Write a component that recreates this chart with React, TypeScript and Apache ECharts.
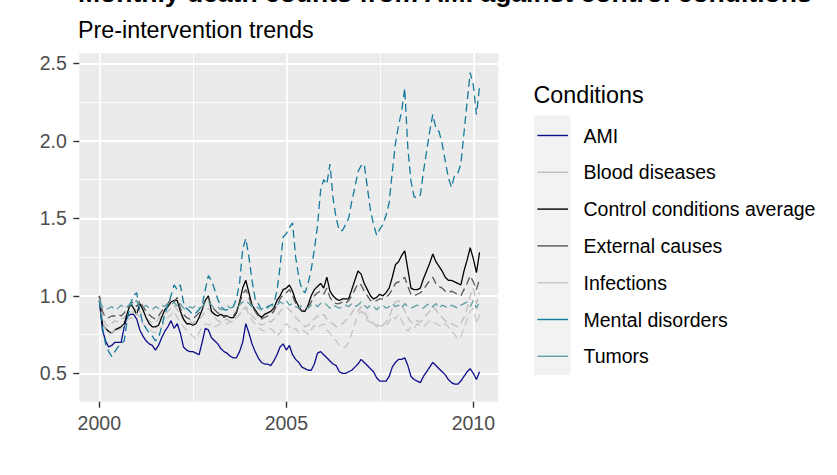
import React, { useEffect, useRef } from "react";
import * as echarts from "echarts";

const FONT = "'Liberation Sans', Arial, sans-serif";

const TITLE = "Monthly death counts from AMI against control conditions";
const SUBTITLE = "Pre-intervention trends";
const LEGEND_TITLE = "Conditions";

const START_YEAR = 2000;
const N_MONTHS = 123;
const months: number[] = Array.from({ length: N_MONTHS }, (_, i) => START_YEAR + i / 12);

const xMajor = [2000, 2005, 2010];
const xMinor = [2002.5, 2007.5];
const yMajor = [0.5, 1.0, 1.5, 2.0, 2.5];
const yMinor = [0.75, 1.25, 1.75, 2.25];

const conditions = [
  "AMI",
  "Blood diseases",
  "Control conditions average",
  "External causes",
  "Infections",
  "Mental disorders",
  "Tumors",
];

const ami = [
  0.97, 0.78, 0.71, 0.67, 0.68, 0.70, 0.70, 0.70, 0.80, 0.87, 0.88, 0.88,
  0.85, 0.78, 0.74, 0.71, 0.69, 0.68, 0.65, 0.68, 0.73, 0.77, 0.80, 0.84,
  0.79, 0.82, 0.76, 0.67, 0.65, 0.64, 0.64, 0.63, 0.62, 0.70, 0.79, 0.78,
  0.73, 0.71, 0.69, 0.66, 0.64, 0.63, 0.61, 0.60, 0.60, 0.64, 0.70, 0.82,
  0.76, 0.69, 0.64, 0.60, 0.57, 0.56, 0.56, 0.55, 0.58, 0.62, 0.67, 0.69,
  0.65, 0.68, 0.62, 0.59, 0.57, 0.54, 0.53, 0.52, 0.52, 0.56, 0.63, 0.64,
  0.62, 0.60, 0.58, 0.56, 0.55, 0.51, 0.50, 0.50, 0.51, 0.52, 0.54, 0.56,
  0.59, 0.57, 0.55, 0.53, 0.51, 0.47, 0.45, 0.45, 0.45, 0.48, 0.54, 0.57,
  0.59, 0.59, 0.60, 0.55, 0.48, 0.46, 0.45, 0.44, 0.48, 0.51, 0.54, 0.57,
  0.55, 0.53, 0.51, 0.49, 0.46, 0.44, 0.43, 0.43, 0.45, 0.48, 0.51, 0.53,
  0.50, 0.46, 0.51,
];

const bloodDiseases = [
  1.00, 0.86, 0.82, 0.80, 0.82, 0.84, 0.83, 0.85, 0.86, 0.88, 0.90, 0.89,
  0.93, 0.90, 0.87, 0.85, 0.84, 0.82, 0.83, 0.85, 0.87, 0.88, 0.90, 0.92,
  0.94, 0.91, 0.88, 0.85, 0.83, 0.84, 0.82, 0.84, 0.85, 0.87, 0.90, 0.92,
  0.89, 0.86, 0.84, 0.83, 0.84, 0.85, 0.83, 0.84, 0.86, 0.88, 0.91, 0.93,
  0.90, 0.87, 0.85, 0.83, 0.81, 0.82, 0.84, 0.83, 0.85, 0.87, 0.90, 0.92,
  0.93, 0.91, 0.89, 0.86, 0.84, 0.82, 0.80, 0.81, 0.83, 0.85, 0.87, 0.86,
  0.88, 0.85, 0.83, 0.82, 0.80, 0.81, 0.82, 0.84, 0.86, 0.89, 0.92, 0.90,
  0.93, 0.90, 0.86, 0.84, 0.82, 0.81, 0.82, 0.81, 0.83, 0.86, 0.92, 0.96,
  0.97, 0.94, 0.90, 0.86, 0.83, 0.82, 0.84, 0.83, 0.85, 0.88, 0.90, 0.93,
  0.91, 0.88, 0.86, 0.84, 0.83, 0.82, 0.81, 0.80, 0.82, 0.86, 0.92, 1.00,
  1.05, 0.95, 1.02,
];

const controlAverage = [
  1.00, 0.82, 0.79, 0.77, 0.76, 0.78, 0.79, 0.80, 0.82, 0.89, 0.95, 0.92,
  0.88, 0.95, 0.91, 0.86, 0.82, 0.80, 0.80, 0.81, 0.86, 0.91, 0.93, 0.96,
  0.97, 0.97, 0.90, 0.85, 0.82, 0.82, 0.81, 0.82, 0.86, 0.91, 0.97, 1.00,
  0.90, 0.88, 0.87, 0.88, 0.87, 0.87, 0.86, 0.86, 0.89, 0.96, 1.05, 1.10,
  1.02, 0.94, 0.91, 0.88, 0.86, 0.88, 0.89, 0.90, 0.92, 0.97, 1.00, 1.04,
  1.05, 1.07, 1.03, 0.97, 0.93, 0.90, 0.90, 0.94, 1.00, 1.04, 1.06, 1.08,
  1.05, 1.12, 1.03, 1.00, 0.98, 0.97, 0.98, 0.98, 0.98, 1.04, 1.10, 1.16,
  1.14, 1.08, 1.04, 1.00, 0.98, 0.99, 1.01, 1.00, 1.02, 1.05, 1.12, 1.20,
  1.22, 1.26, 1.29, 1.17, 1.05, 1.04, 1.04, 1.05, 1.11, 1.16, 1.21, 1.27,
  1.22, 1.19, 1.16, 1.12, 1.10, 1.10, 1.09, 1.08, 1.07, 1.16, 1.23, 1.31,
  1.24, 1.15, 1.28,
];

const externalCauses = [
  1.00, 0.90, 0.86, 0.86, 0.87, 0.87, 0.88, 0.87, 0.89, 0.92, 0.95, 0.96,
  0.93, 0.97, 0.93, 0.90, 0.88, 0.86, 0.85, 0.87, 0.90, 0.93, 0.95, 0.98,
  0.96, 0.99, 0.92, 0.88, 0.86, 0.85, 0.85, 0.87, 0.89, 0.92, 0.97, 0.99,
  0.93, 0.91, 0.89, 0.88, 0.86, 0.87, 0.86, 0.87, 0.90, 0.95, 1.01, 1.04,
  0.99, 0.93, 0.90, 0.87, 0.85, 0.86, 0.87, 0.88, 0.90, 0.94, 0.98, 1.01,
  1.02, 1.04, 1.00, 0.95, 0.92, 0.90, 0.91, 0.93, 0.96, 1.00, 1.02, 1.03,
  1.01, 1.05, 0.99, 0.96, 0.95, 0.95, 0.96, 0.95, 0.97, 1.00, 1.04, 1.08,
  1.07, 1.03, 1.00, 0.97, 0.96, 0.97, 0.98, 0.98, 0.99, 1.01, 1.04, 1.08,
  1.09, 1.10, 1.12, 1.06, 1.01, 1.00, 1.01, 1.02, 1.04, 1.07, 1.10, 1.12,
  1.08, 1.06, 1.05, 1.03, 1.02, 1.03, 1.02, 1.01, 1.00, 1.04, 1.08, 1.13,
  1.09, 1.04, 1.11,
];

const infections = [
  0.98, 0.84, 0.78, 0.75, 0.76, 0.78, 0.77, 0.79, 0.81, 0.84, 0.86, 0.85,
  0.89, 0.86, 0.82, 0.80, 0.78, 0.77, 0.76, 0.78, 0.80, 0.83, 0.86, 0.88,
  0.90, 0.86, 0.83, 0.80, 0.78, 0.76, 0.74, 0.72, 0.76, 0.80, 0.82, 0.81,
  0.82, 0.80, 0.81, 0.82, 0.83, 0.82, 0.83, 0.84, 0.86, 0.88, 0.91, 0.92,
  0.88, 0.84, 0.82, 0.80, 0.78, 0.77, 0.78, 0.79, 0.77, 0.74, 0.76, 0.80,
  0.82, 0.80, 0.78, 0.79, 0.76, 0.78, 0.77, 0.75, 0.78, 0.81, 0.79, 0.81,
  0.82, 0.78, 0.76, 0.73, 0.71, 0.68, 0.67, 0.67, 0.70, 0.76, 0.82, 0.88,
  0.90, 0.88, 0.84, 0.83, 0.82, 0.80, 0.81, 0.80, 0.81, 0.83, 0.87, 0.85,
  0.88, 0.84, 0.80, 0.77, 0.80, 0.79, 0.82, 0.81, 0.80, 0.82, 0.84, 0.83,
  0.82, 0.81, 0.80, 0.82, 0.80, 0.77, 0.75, 0.72, 0.74, 0.79, 0.85, 0.90,
  0.92, 0.82, 0.88,
];

const mentalDisorders = [
  0.97, 0.80, 0.69, 0.64, 0.61, 0.64, 0.67, 0.69, 0.71, 0.85, 0.95, 1.00,
  1.02, 0.90, 0.82, 0.79, 0.76, 0.74, 0.71, 0.73, 0.80, 0.88, 0.94, 1.00,
  1.07, 1.04, 1.07, 0.96, 0.92, 0.90, 0.88, 0.89, 0.91, 0.94, 1.04, 1.13,
  1.10, 1.04, 0.98, 0.93, 0.91, 0.91, 0.92, 0.93, 0.98, 1.08, 1.30, 1.37,
  1.25, 1.10, 0.98, 0.95, 0.91, 0.92, 0.93, 0.94, 0.95, 1.03, 1.19, 1.38,
  1.40, 1.44, 1.47, 1.25, 1.12, 1.04, 1.02, 1.08, 1.17, 1.30, 1.45, 1.68,
  1.75, 1.72, 1.85, 1.63, 1.50, 1.42, 1.42, 1.46, 1.50, 1.61, 1.70, 1.80,
  1.84, 1.85, 1.70, 1.55, 1.46, 1.39, 1.43, 1.46, 1.52, 1.60, 1.80, 1.98,
  2.10, 2.19, 2.34, 1.95, 1.74, 1.64, 1.63, 1.65, 1.80, 1.93, 2.06, 2.17,
  2.08, 2.06, 1.98, 1.87, 1.76, 1.70, 1.78, 1.79, 1.85, 2.05, 2.25, 2.44,
  2.36, 2.17, 2.35,
];

const tumors = [
  0.97, 0.93, 0.91, 0.92, 0.93, 0.91, 0.92, 0.94, 0.92, 0.93, 0.95, 0.94,
  0.97, 0.93, 0.92, 0.94, 0.92, 0.91, 0.93, 0.92, 0.94, 0.93, 0.95, 0.94,
  0.96, 0.93, 0.95, 0.92, 0.91, 0.93, 0.92, 0.94, 0.92, 0.93, 0.95, 0.96,
  0.94, 0.92, 0.93, 0.91, 0.92, 0.94, 0.92, 0.93, 0.92, 0.94, 0.96, 0.97,
  0.95, 0.93, 0.94, 0.92, 0.91, 0.93, 0.92, 0.94, 0.93, 0.94, 0.96, 0.95,
  0.97, 0.94, 0.95, 0.93, 0.92, 0.94, 0.93, 0.92, 0.94, 0.95, 0.93, 0.95,
  0.96, 0.94, 0.92, 0.94, 0.93, 0.92, 0.93, 0.94, 0.93, 0.95, 0.93, 0.94,
  0.96, 0.94, 0.92, 0.94, 0.93, 0.91, 0.93, 0.94, 0.92, 0.93, 0.95, 0.93,
  0.94, 0.92, 0.95, 0.93, 0.92, 0.93, 0.94, 0.93, 0.92, 0.94, 0.95, 0.93,
  0.95, 0.92, 0.94, 0.93, 0.92, 0.94, 0.93, 0.92, 0.94, 0.95, 0.96, 0.93,
  0.97, 0.92, 0.96,
];

const seriesValues = [ami, bloodDiseases, controlAverage, externalCauses, infections, mentalDisorders, tumors];
const seriesColors = ["#0D0D8C", "#BEBEBE", "#000000", "#555555", "#C6C6C6", "#137A9C", "#5F9EA3"];
const seriesDashed = [false, true, false, true, true, true, true];

const X_MIN = 1999.465;
const X_MAX = 2010.668;
const Y_MIN = 0.317;
const Y_MAX = 2.5645;

export default function App() {
  const ref = useRef<HTMLDivElement>(null);

  useEffect(() => {
    if (!ref.current) return;
    const chart = echarts.init(ref.current, null, { renderer: "svg" });

    const series = conditions.map((name, k) => ({
      name,
      type: "line",
      data: seriesValues[k].map((v, i) => [months[i], v]),
      showSymbol: false,
      symbol: "none",
      lineStyle: {
        color: seriesColors[k],
        width: 1.3,
        type: seriesDashed[k] ? [8, 4.5] : "solid",
      },
      itemStyle: { color: seriesColors[k] },
      emphasis: { disabled: true },
      silent: true,
      z: 2 + k * 0.01,
    }));

    const option: any = {
      animation: false,
      backgroundColor: "#FFFFFF",
      textStyle: { fontFamily: FONT },
      grid: {
        left: 79.3,
        top: 53.3,
        width: 419,
        height: 348.4,
        show: true,
        backgroundColor: "#EBEBEB",
        borderWidth: 0,
        containLabel: false,
        outerBoundsMode: "none",
      },
      xAxis: [
        {
          type: "value",
          min: X_MIN,
          max: X_MAX,
          axisLine: { show: false },
          axisTick: {
            show: true,
            length: 6,
            customValues: xMajor,
            lineStyle: { color: "#333333", width: 1.4 },
          },
          axisLabel: {
            customValues: xMajor,
            color: "#4D4D4D",
            fontSize: 19.5,
            fontFamily: FONT,
            margin: 11,
            formatter: (v: number) => String(Math.round(v)),
          },
          splitLine: { show: true, lineStyle: { color: "#FFFFFF", width: 1.8 } },
        },
        {
          type: "value",
          min: X_MIN,
          max: X_MAX,
          position: "bottom",
          axisLine: { show: false },
          axisTick: { show: false, customValues: xMinor },
          axisLabel: { show: false, customValues: xMinor },
          splitLine: { show: true, lineStyle: { color: "#FFFFFF", width: 0.9 } },
        },
      ],
      yAxis: [
        {
          type: "value",
          min: Y_MIN,
          max: Y_MAX,
          axisLine: { show: false },
          axisTick: {
            show: true,
            length: 6,
            customValues: yMajor,
            lineStyle: { color: "#333333", width: 1.4 },
          },
          axisLabel: {
            customValues: yMajor,
            color: "#4D4D4D",
            fontSize: 19.5,
            fontFamily: FONT,
            margin: 12.5,
            formatter: (v: number) => v.toFixed(1),
          },
          splitLine: { show: true, lineStyle: { color: "#FFFFFF", width: 1.8 } },
        },
        {
          type: "value",
          min: Y_MIN,
          max: Y_MAX,
          position: "left",
          axisLine: { show: false },
          axisTick: { show: false, customValues: yMinor },
          axisLabel: { show: false, customValues: yMinor },
          splitLine: { show: true, lineStyle: { color: "#FFFFFF", width: 0.9 } },
        },
      ],
      legend: {
        show: true,
        orient: "vertical",
        left: 536.7,
        top: 125.5,
        padding: 0,
        itemWidth: 30.6,
        itemHeight: 20,
        itemGap: 16.8,
        selectedMode: false,
        data: conditions,
        itemStyle: { opacity: 0, borderWidth: 0 },
        lineStyle: { type: "solid", width: 1.4, opacity: 1 },
        textStyle: {
          color: "#000000",
          fontSize: 19.5,
          fontFamily: FONT,
          lineHeight: 20,
          padding: [0, 0, 0, 10.5],
        },
        z: 5,
      },
      graphic: [
        {
          type: "rect",
          shape: { x: 534, y: 115.5, width: 36.7, height: 259.5 },
          style: { fill: "#F2F2F2" },
          z: 0,
          silent: true,
        },
        {
          type: "text",
          x: 78,
          y: -6.6,
          style: {
            text: TITLE,
            fontSize: 26.5,
            fontWeight: "bold",
            fontFamily: FONT,
            fill: "#000000",
            verticalAlign: "middle",
            align: "left",
          },
        },
        {
          type: "text",
          x: 78,
          y: 30.2,
          style: {
            text: SUBTITLE,
            fontSize: 23.3,
            fontFamily: FONT,
            fill: "#000000",
            verticalAlign: "middle",
            align: "left",
          },
        },
        {
          type: "text",
          x: 533.5,
          y: 95.2,
          style: {
            text: LEGEND_TITLE,
            fontSize: 23.3,
            fontFamily: FONT,
            fill: "#000000",
            verticalAlign: "middle",
            align: "left",
          },
        },
      ],
      series,
    };

    chart.setOption(option);
    return () => chart.dispose();
  }, []);

  return (
    <div
      ref={ref}
      style={{ position: "fixed", left: 0, top: 0, width: 837, height: 475, background: "#FFFFFF" }}
    />
  );
}
